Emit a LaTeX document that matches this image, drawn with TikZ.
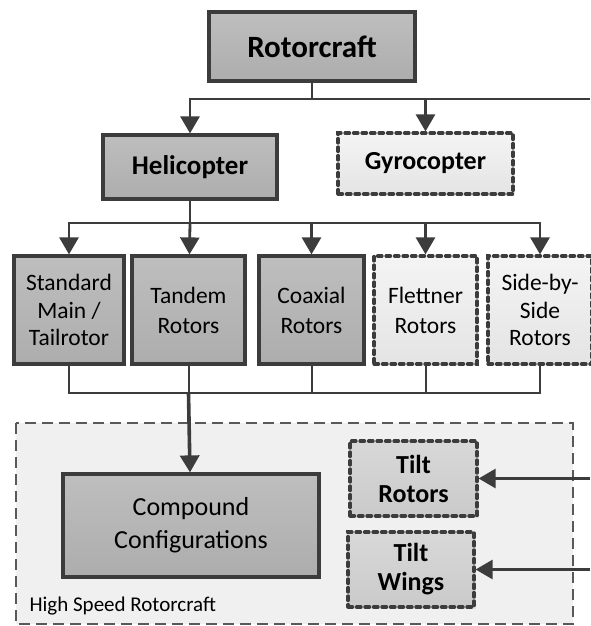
\documentclass[tikz,border=0pt]{standalone}
\usepackage{fontspec}
\setmainfont{Carlito}
\usetikzlibrary{arrows.meta,shadows}
\definecolor{edge}{HTML}{3C3C3C}
\definecolor{boxtop}{HTML}{BEBEBE}
\definecolor{boxbot}{HTML}{ADADAD}
\definecolor{lighttop}{HTML}{F4F4F4}
\definecolor{lightbot}{HTML}{E4E4E4}
\definecolor{tilttop}{HTML}{D8D8D8}
\definecolor{tiltbot}{HTML}{CACACA}
\definecolor{groupfill}{HTML}{F0F0F0}
\tikzset{
  solidbox/.style={draw=edge,line width=3.2pt,top color=boxtop,bottom color=boxbot,
    align=center,inner sep=0pt,drop shadow={opacity=0.2,shadow xshift=2pt,shadow yshift=-2pt}},
  dotbox/.style={draw=edge,line width=3.2pt,dash pattern=on 4.5pt off 4pt,line cap=round,
    top color=lighttop,bottom color=lightbot,
    align=center,inner sep=0pt,drop shadow={opacity=0.15,shadow xshift=2pt,shadow yshift=-2pt}},
  tiltbox/.style={dotbox,top color=tilttop,bottom color=tiltbot},
  link/.style={draw=edge,line width=2.8pt,-{Triangle[width=19pt,length=17pt]}},
}
\begin{document}
\begin{tikzpicture}[x=1pt,y=-1pt]
  \useasboundingbox (0,0) rectangle (590,626);
  % high speed group
  \draw[draw=edge!85,line width=1.4pt,dash pattern=on 11pt off 6pt,fill=groupfill]
    (16,423) rectangle (573,624);
  \node[anchor=base west,font=\fontsize{21}{24}\selectfont] (hs) at (26,611) {High Speed Rotorcraft};
  \draw
    (312,46.5) node[solidbox,minimum width=206pt,minimum height=69pt,font=\fontsize{31}{34}\bfseries] (rotor) {Rotorcraft}
    (190,167) node[solidbox,minimum width=174pt,minimum height=64pt,font=\fontsize{27}{30}\bfseries] (heli) {Helicopter}
    (425.5,163.5) node[dotbox,minimum width=175pt,minimum height=61pt,font=\fontsize{26}{30}\bfseries] (gyro) {Gyrocopter}
    (69,310) node[solidbox,minimum width=110pt,minimum height=108pt,font=\fontsize{23.5}{27.5}\selectfont] (std) {Standard\\Main /\\Tailrotor}
    (188.5,310) node[solidbox,minimum width=113pt,minimum height=108pt,font=\fontsize{23.5}{30}\selectfont] (tandem) {Tandem\\Rotors}
    (311.5,310) node[solidbox,minimum width=105pt,minimum height=108pt,font=\fontsize{23.5}{30}\selectfont] (coax) {Coaxial\\Rotors}
    (425.5,310) node[dotbox,minimum width=103pt,minimum height=108pt,font=\fontsize{23.5}{30}\selectfont] (flett) {Flettner\\Rotors}
    (540,310) node[dotbox,minimum width=104pt,minimum height=108pt,font=\fontsize{23.5}{27.5}\selectfont] (side) {Side-by-\\Side\\Rotors}
    (191,525.5) node[solidbox,minimum width=256pt,minimum height=103pt,font=\fontsize{26}{33}\selectfont] (comp) {Compound\\Configurations}
    (413.5,478.5) node[tiltbox,minimum width=127pt,minimum height=75pt,font=\fontsize{26}{29}\bfseries] (tiltr) {Tilt\\Rotors}
    (411,569.5) node[tiltbox,minimum width=126pt,minimum height=75pt,font=\fontsize{26}{29}\bfseries] (tiltw) {Tilt\\Wings};
  \coordinate (top) at (312,99);
  \coordinate (mid) at (190,223);
  \coordinate (bot) at (188.5,393);
  \coordinate (outr) at (590,478.5);
  \coordinate (outw) at (590,569.5);
  \begin{scope}[draw=edge,line width=2.8pt]
    \draw (rotor) -- (top) -- (590,99);
    \draw[link] (top) -| (heli);
    \draw[link] (top) -| (gyro);
    \draw (heli) -- (mid);
    \draw[link] (mid) -| (std);
    \draw[link] (mid) -- (tandem);
    \draw[link] (mid) -| (coax);
    \draw[link] (mid) -| (flett);
    \draw[link] (mid) -| (side);
    \draw[link] (outr) -- (tiltr);
    \draw[link] (outw) -- (tiltw);
  \end{scope}
  \begin{scope}[draw=edge,line width=2pt]
    \draw (std) |- (bot);
    \draw (tandem) -- (bot);
    \draw (coax) |- (bot);
    \draw (flett) |- (bot);
    \draw (side) |- (bot);
  \end{scope}
  \draw[link,line width=3.6pt] (bot) -- (comp);
\end{tikzpicture}
\end{document}
